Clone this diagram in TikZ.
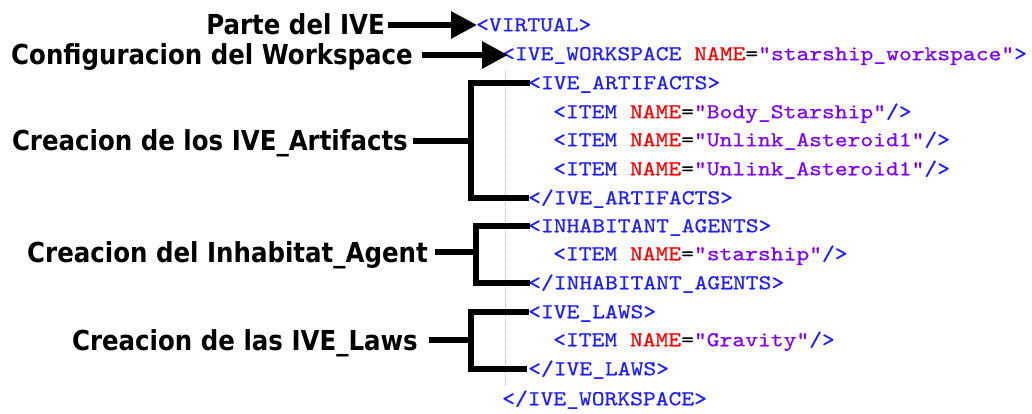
\documentclass[tikz,border=0pt]{standalone}
\usepackage{fontspec}
\usetikzlibrary{arrows.meta,calc}

% label font: heavy sans, slightly condensed; code font: typewriter with serifs
\newfontfamily\labfont{DejaVu Sans Bold}[FakeStretch=0.89]
\newfontfamily\codefont{lmmono10-regular.otf}[FakeStretch=1.15,FakeBold=0.6]

\definecolor{tagblue}{RGB}{30,30,255}
\definecolor{attrred}{RGB}{255,0,0}
\definecolor{valpurple}{RGB}{128,0,255}
\definecolor{guidegray}{RGB}{185,185,185}

% XML syntax colouring
\newcommand\an[1]{\textcolor{attrred}{#1}}
\newcommand\av[1]{\textcolor{valpurple}{#1}}
\newcommand\eqs{\textcolor{black}{=}}

\begin{document}
\begin{tikzpicture}[x=1pt,y=-1pt,
  lab/.style={font=\labfont\fontsize{27.5}{30}\selectfont, anchor=east,
    inner sep=0pt, text height=20pt, text depth=0pt},
  code/.style={font=\codefont\fontsize{21.2}{24}\selectfont, anchor=west,
    inner sep=0pt, text height=12.5pt, text depth=0pt, text=tagblue},
  brk/.style={line width=6pt, line join=miter},
  arr/.style={line width=6pt, -{Triangle[length=26pt,width=26pt]}},
  guide/.style={guidegray, line width=1pt, dash pattern=on 1pt off 1pt}]
\useasboundingbox (0,0) rectangle (1032,414);

% indentation guide of the editor
\draw[guide] (505,70) -- (505,385);

% XML listing
\node[code] (vir)  at (476,25)  {<VIRTUAL>};
\node[code] (ws)   at (502,54)  {<IVE\_WORKSPACE \an{NAME}\eqs\av{"starship\_workspace"}>};
\node[code] (artO) at (528,83)  {<IVE\_ARTIFACTS>};
\node[code] (it1)  at (553,112) {<ITEM \an{NAME}\eqs\av{"Body\_Starship"}/>};
\node[code] (it2)  at (553,140) {<ITEM \an{NAME}\eqs\av{"Unlink\_Asteroid1"}/>};
\node[code] (it3)  at (553,169) {<ITEM \an{NAME}\eqs\av{"Unlink\_Asteroid1"}/>};
\node[code] (artC) at (528,198) {</IVE\_ARTIFACTS>};
\node[code] (inhO) at (528,226) {<INHABITANT\_AGENTS>};
\node[code] (it4)  at (553,254) {<ITEM \an{NAME}\eqs\av{"starship"}/>};
\node[code] (inhC) at (528,283) {</INHABITANT\_AGENTS>};
\node[code] (lawO) at (528,312) {<IVE\_LAWS>};
\node[code] (it5)  at (553,340) {<ITEM \an{NAME}\eqs\av{"Gravity"}/>};
\node[code] (lawC) at (528,369) {</IVE\_LAWS>};
\node[code] (wsC)  at (502,399) {</IVE\_WORKSPACE>};

% annotations
\node[lab] (l1) at (385,25)  {Parte del IVE};
\node[lab] (l2) at (413,55)  {Configuracion del Workspace};
\node[lab] (l3) at (408,141) {Creacion de los IVE\_Artifacts};
\node[lab] (l4) at (428,252) {Creacion del Inhabitat\_Agent};
\node[lab] (l5) at (418,340) {Creacion de las IVE\_Laws};

% arrows
\draw[arr, shorten <=3pt] (l1.east) -- ([xshift=1pt]vir.west);
\draw[arr, shorten <=9pt] (l2.east) -- ($(ws.west |- l2.east)+(6,0)$);

% brackets
\coordinate (j3) at (471,141);
\coordinate (j4) at (476,252);
\coordinate (j5) at (471,340);
\draw[brk] ([xshift=2pt]artO.west) -| (j3) |- ([xshift=1pt]artC.west);
\draw[brk, shorten <=5pt] (l3.east) -- (j3);
\draw[brk] ([xshift=2pt]inhO.west) -| (j4) |- ([xshift=2pt]inhC.west);
\draw[brk, shorten <=7pt] (l4.east) -- (j4);
\draw[brk] ([xshift=1pt]lawO.west) -| (j5) |- ([xshift=-1pt]lawC.west);
\draw[brk, shorten <=11pt] (l5.east) -- (j5);
\end{tikzpicture}
\end{document}
